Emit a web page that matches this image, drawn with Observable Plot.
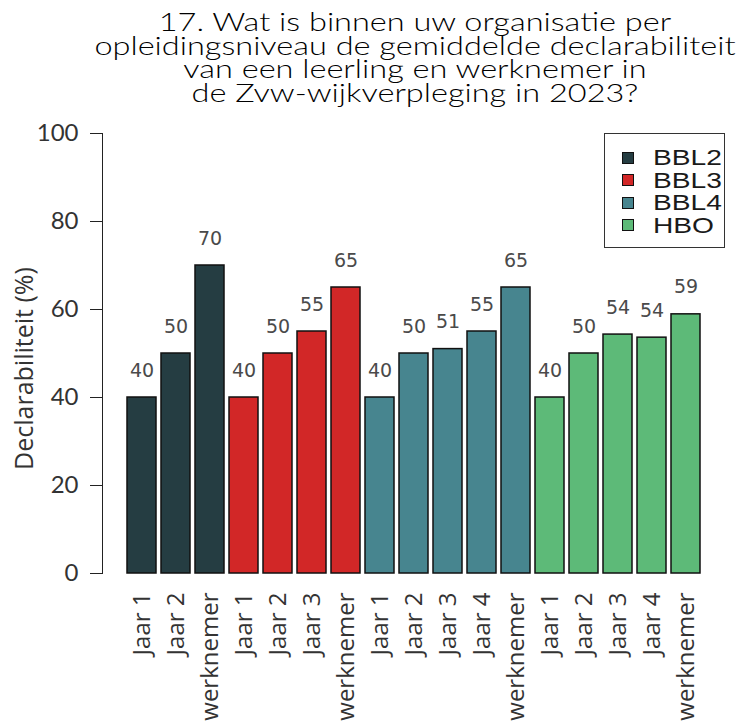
<!DOCTYPE html>
<html>
<head>
<meta charset="utf-8">
<script src="https://cdn.jsdelivr.net/npm/d3@7"></script>
<script src="https://cdn.jsdelivr.net/npm/@observablehq/plot@0.6"></script>
<style>
  html, body { margin: 0; padding: 0; background: #fff; }
  #wrap { position: relative; width: 750px; height: 727px; overflow: hidden; }
  #title { width: 670px; margin-left: 80px; padding-top: 10px; height: 90px; text-align: center;
           font-family: Lato, sans-serif; font-weight: 300; font-size: 26px; line-height: 23.5px; color: #000;
           transform: scaleX(1.25); transform-origin: 335px 0; white-space: nowrap; }
  #legend { position: absolute; left: 604px; top: 133px; width: 121px; height: 115px; box-sizing: border-box;
            border: 1.5px solid #333; background: #fff; padding-top: 13px;
            font-family: "Liberation Sans", Arial, sans-serif; font-size: 22px; color: #1a1a1a; }
  .row { height: 22.5px; line-height: 22.5px; position: relative; }
  .sw { position: absolute; left: 16.5px; top: 4.5px; width: 12px; height: 12px; box-sizing: border-box; border: 1px solid #111; }
  .lt { position: absolute; left: 47.5px; top: 0; transform: scaleX(1.28); transform-origin: 0 0; }
</style>
</head>
<body>
<div id="wrap">
  <div id="title">17. Wat is binnen uw organisatie per<br>opleidingsniveau de gemiddelde declarabiliteit<br>van een leerling en werknemer in<br>de Zvw-wijkverpleging in 2023?</div>
  <div id="chart"></div>
  <div id="legend"></div>
</div>
<script>
const groups = ["BBL2", "BBL3", "BBL4", "HBO"];
const groupColors = ["#253d42", "#d22727", "#47858f", "#5dba78"];

const bbl2Cats = ["Jaar 1", "Jaar 2", "werknemer"];
const bbl2Vals = [40, 50, 70];
const bbl3Cats = ["Jaar 1", "Jaar 2", "Jaar 3", "werknemer"];
const bbl3Vals = [40, 50, 55, 65];
const bbl4Cats = ["Jaar 1", "Jaar 2", "Jaar 3", "Jaar 4", "werknemer"];
const bbl4Vals = [40, 50, 51, 55, 65];
const hboCats = ["Jaar 1", "Jaar 2", "Jaar 3", "Jaar 4", "werknemer"];
const hboVals = [40, 50, 54.3, 53.6, 58.9];

const yTicks = [0, 20, 40, 60, 80, 100];
const yLabel = "Declarabiliteit (%)";

const series = [
  [groups[0], bbl2Cats, bbl2Vals],
  [groups[1], bbl3Cats, bbl3Vals],
  [groups[2], bbl4Cats, bbl4Vals],
  [groups[3], hboCats, hboVals]
];
const rows = [];
for (const [g, cats, vals] of series) {
  cats.forEach((c, i) => rows.push({key: g + "|" + c, group: g, cat: c, value: vals[i]}));
}
const keys = rows.map(d => d.key);

const chart = Plot.plot({
  width: 750,
  height: 627,
  marginLeft: 102,
  marginRight: 44,
  marginTop: 33,
  marginBottom: 154,
  style: {fontFamily: "'Liberation Sans', Arial, sans-serif", background: "white", color: "#222"},
  x: {domain: keys, padding: 0.15, insetLeft: 19, label: null},
  y: {domain: [0, 100], label: null},
  color: {domain: groups, range: groupColors},
  marks: [
    Plot.barY(rows, {x: "key", y: "value", fill: "group", stroke: "#111", strokeWidth: 1.5}),
    Plot.text(rows, {x: "key", y: "value", text: d => String(Math.round(d.value)), dy: -27,
      fontSize: 19, fontFamily: "'DejaVu Sans', sans-serif", fill: "#4a4a4a"}),
    Plot.axisY({ticks: yTicks, tickSize: 12, tickPadding: 12, fontSize: 24,
      fontFamily: "Lato, sans-serif", label: null, stroke: "#222", fill: "#333"}),
    Plot.frame({anchor: "left", stroke: "#222"}),
    Plot.axisX({tickSize: 0, tickPadding: 19, tickRotate: -90, fontSize: 24, fill: "#333",
      fontFamily: "'Open Sans', sans-serif", tickFormat: k => k.split("|")[1], label: null}),
    Plot.text([yLabel], {frameAnchor: "left", text: d => d, rotate: -90, textAnchor: "middle",
      dx: -78, dy: 15, fontSize: 25, fontFamily: "'Open Sans', sans-serif",
      fill: "#333", ariaLabel: "ylabel"})
  ]
});
d3.select(chart).selectAll('g[aria-label="ylabel"] text').attr("letter-spacing", "1.3px");
document.getElementById("chart").appendChild(chart);

const leg = document.getElementById("legend");
groups.forEach((g, i) => {
  const r = document.createElement("div");
  r.className = "row";
  const s = document.createElement("span");
  s.className = "sw";
  s.style.background = groupColors[i];
  r.appendChild(s);
  const t = document.createElement("span");
  t.className = "lt";
  t.textContent = g;
  r.appendChild(t);
  leg.appendChild(r);
});
</script>
</body>
</html>
